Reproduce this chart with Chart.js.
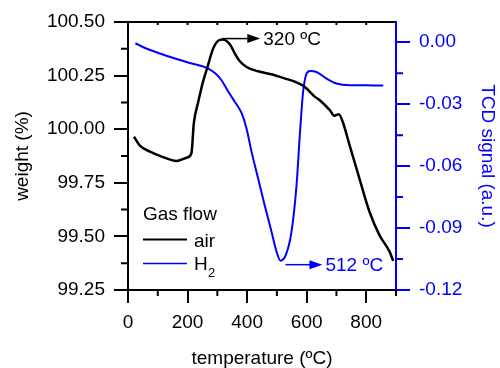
<!DOCTYPE html>
<html>
<head>
<meta charset="utf-8">
<script src="https://cdn.jsdelivr.net/npm/chart.js@4"></script>
<style>
  html, body { margin: 0; padding: 0; background: #fff; }
</style>
</head>
<body>
<canvas id="chart" width="500" height="368"></canvas>
<script>
// air: weight (%) vs temperature
const airTemp = [20, 40, 74, 113, 163, 197, 213, 221, 236, 252, 269, 286, 302, 318, 332, 345, 358, 375, 398, 437, 481, 526, 565, 593, 610, 627, 643, 677, 693, 708, 721, 744, 777, 811, 844, 878, 891];
const airWeight = [99.965, 99.923, 99.895, 99.872, 99.852, 99.867, 99.888, 100.027, 100.128, 100.222, 100.300, 100.377, 100.412, 100.418, 100.410, 100.390, 100.355, 100.318, 100.290, 100.270, 100.256, 100.237, 100.219, 100.198, 100.175, 100.152, 100.136, 100.090, 100.063, 100.070, 100.035, 99.926, 99.771, 99.615, 99.507, 99.430, 99.385];

// H2: TCD signal vs temperature
const h2Temp = [25, 57, 102, 158, 214, 264, 292, 314, 337, 359, 382, 398, 415, 437, 459, 482, 499, 512, 530, 549, 566, 577, 588, 600, 611, 633, 667, 700, 745, 801, 857];
const h2Signal = [-0.0005, -0.0028, -0.0052, -0.0079, -0.0103, -0.0124, -0.0149, -0.0184, -0.0240, -0.0289, -0.0345, -0.0418, -0.0531, -0.0660, -0.0789, -0.0918, -0.1015, -0.1058, -0.1030, -0.0918, -0.0692, -0.0450, -0.0240, -0.0151, -0.0139, -0.0144, -0.0176, -0.0200, -0.0208, -0.0208, -0.0210];

const tempTicks = [0, 200, 400, 600, 800];
const weightTicks = [99.25, 99.5, 99.75, 100, 100.25, 100.5];
const signalTicks = [-0.12, -0.09, -0.06, -0.03, 0];
const peakLabels = ['320 ºC', '512 ºC'];

const FONT = 'Liberation Sans, Arial, sans-serif';
const BLUE = '#0000ff';

Chart.defaults.font.family = FONT;
Chart.defaults.font.size = 19;
Chart.defaults.color = '#000';

function midpoints(arr, extra) {
  const out = [];
  for (let i = 0; i < arr.length - 1; i++) out.push((arr[i] + arr[i + 1]) / 2);
  if (extra !== undefined) out.push(extra);
  return out;
}

const decorations = {
  id: 'decorations',
  afterDraw(chart) {
    const { ctx, chartArea: a, scales: { x, y, y2 } } = chart;
    ctx.save();
    ctx.lineWidth = 2;

    // top frame line with small inward ticks
    ctx.strokeStyle = '#000';
    ctx.beginPath();
    ctx.moveTo(a.left - 1, a.top);
    ctx.lineTo(a.right, a.top);
    for (let t = 100; t < 900; t += 100) {
      const px = x.getPixelForValue(t);
      ctx.moveTo(px, a.top);
      ctx.lineTo(px, a.top + 3);
    }
    // minor ticks, bottom and left
    for (const t of midpoints(tempTicks, 900)) {
      const px = x.getPixelForValue(t);
      ctx.moveTo(px, a.bottom);
      ctx.lineTo(px, a.bottom + 6);
    }
    for (const v of midpoints(weightTicks)) {
      const py = y.getPixelForValue(v);
      ctx.moveTo(a.left, py);
      ctx.lineTo(a.left - 7, py);
    }
    ctx.stroke();

    // minor ticks, right
    ctx.strokeStyle = BLUE;
    ctx.beginPath();
    for (const v of midpoints(signalTicks)) {
      const py = y2.getPixelForValue(v);
      ctx.moveTo(a.right, py);
      ctx.lineTo(a.right + 7, py);
    }
    ctx.stroke();

    // legend
    ctx.font = '19px ' + FONT;
    ctx.textBaseline = 'alphabetic';
    ctx.textAlign = 'left';
    ctx.fillStyle = '#000';
    ctx.fillText('Gas flow', 143, 220);
    ctx.lineWidth = 2;
    ctx.strokeStyle = '#000';
    ctx.beginPath(); ctx.moveTo(143, 239.5); ctx.lineTo(187, 239.5); ctx.stroke();
    ctx.fillText('air', 194, 247);
    ctx.strokeStyle = BLUE;
    ctx.lineWidth = 1.5;
    ctx.beginPath(); ctx.moveTo(143, 263.5); ctx.lineTo(187, 263.5); ctx.stroke();
    ctx.fillText('H', 194, 270);
    ctx.font = '13px ' + FONT;
    ctx.fillText('2', 208, 277);

    // peak arrows
    function arrow(x0, yy, len, color, label) {
      ctx.strokeStyle = color;
      ctx.fillStyle = color;
      ctx.lineWidth = 1.5;
      ctx.beginPath();
      ctx.moveTo(x0, yy);
      ctx.lineTo(x0 + len - 12, yy);
      ctx.stroke();
      ctx.beginPath();
      ctx.moveTo(x0 + len - 13, yy - 4.5);
      ctx.lineTo(x0 + len, yy);
      ctx.lineTo(x0 + len - 13, yy + 4.5);
      ctx.closePath();
      ctx.fill();
      ctx.font = '19px ' + FONT;
      ctx.textBaseline = 'middle';
      ctx.fillText(label, x0 + len + 3, yy + 1);
    }
    const peakW = Math.max(...airWeight);
    arrow(x.getPixelForValue(320) - 1, y.getPixelForValue(peakW) - 1, 38, '#000', peakLabels[0]);
    const minS = Math.min(...h2Signal);
    arrow(x.getPixelForValue(512) + 5, y2.getPixelForValue(minS) + 4, 37, BLUE, peakLabels[1]);

    ctx.restore();
  }
};

new Chart(document.getElementById('chart'), {
  type: 'line',
  data: {
    datasets: [
      {
        label: 'air',
        data: airTemp.map((t, i) => ({ x: t, y: airWeight[i] })),
        borderColor: '#000',
        borderWidth: 2.5,
        pointRadius: 0,
        cubicInterpolationMode: 'monotone',
        yAxisID: 'y'
      },
      {
        label: 'H2',
        data: h2Temp.map((t, i) => ({ x: t, y: h2Signal[i] })),
        borderColor: BLUE,
        borderWidth: 2,
        pointRadius: 0,
        cubicInterpolationMode: 'monotone',
        yAxisID: 'y2'
      }
    ]
  },
  options: {
    responsive: false,
    animation: false,
    devicePixelRatio: 1,
    layout: { padding: { top: 22, left: 0, right: 0, bottom: 0 } },
    plugins: { legend: { display: false }, tooltip: { enabled: false } },
    scales: {
      x: {
        type: 'linear',
        min: 0,
        max: 900,
        afterBuildTicks: s => { s.ticks = tempTicks.map(v => ({ value: v })); },
        afterFit: s => { s.height = 78; },
        border: { color: '#000', width: 2 },
        grid: { drawOnChartArea: false, color: '#000', tickLength: 13, lineWidth: 2 },
        ticks: { padding: 8, color: '#000' },
        title: {
          display: true,
          text: 'temperature (ºC)',
          font: { size: 19, lineHeight: 1 },
          padding: { top: 0, bottom: 0 }
        }
      },
      y: {
        position: 'left',
        min: 99.25,
        max: 100.5,
        afterBuildTicks: s => { s.ticks = weightTicks.map(v => ({ value: v })); },
        afterFit: s => { s.width = 128; },
        border: { color: '#000', width: 2 },
        grid: { drawOnChartArea: false, color: '#000', tickLength: 14, lineWidth: 2 },
        ticks: { padding: 9, color: '#000', callback: v => v.toFixed(2) },
        title: {
          display: true,
          text: 'weight (%)',
          font: { size: 19, lineHeight: 1 },
          padding: { top: 13, bottom: 0 }
        }
      },
      y2: {
        position: 'right',
        min: -0.12,
        max: 0.0098,
        afterBuildTicks: s => { s.ticks = signalTicks.map(v => ({ value: v })); },
        afterFit: s => { s.width = 104; },
        border: { color: BLUE, width: 2 },
        grid: { drawOnChartArea: false, color: BLUE, tickLength: 14, lineWidth: 2 },
        ticks: { padding: 9, color: BLUE, callback: v => v.toFixed(2) },
        title: {
          display: true,
          text: 'TCD signal (a.u.)',
          color: BLUE,
          font: { size: 19, lineHeight: 1 },
          padding: { top: 3, bottom: 0 }
        }
      }
    }
  },
  plugins: [decorations]
});
</script>
</body>
</html>
